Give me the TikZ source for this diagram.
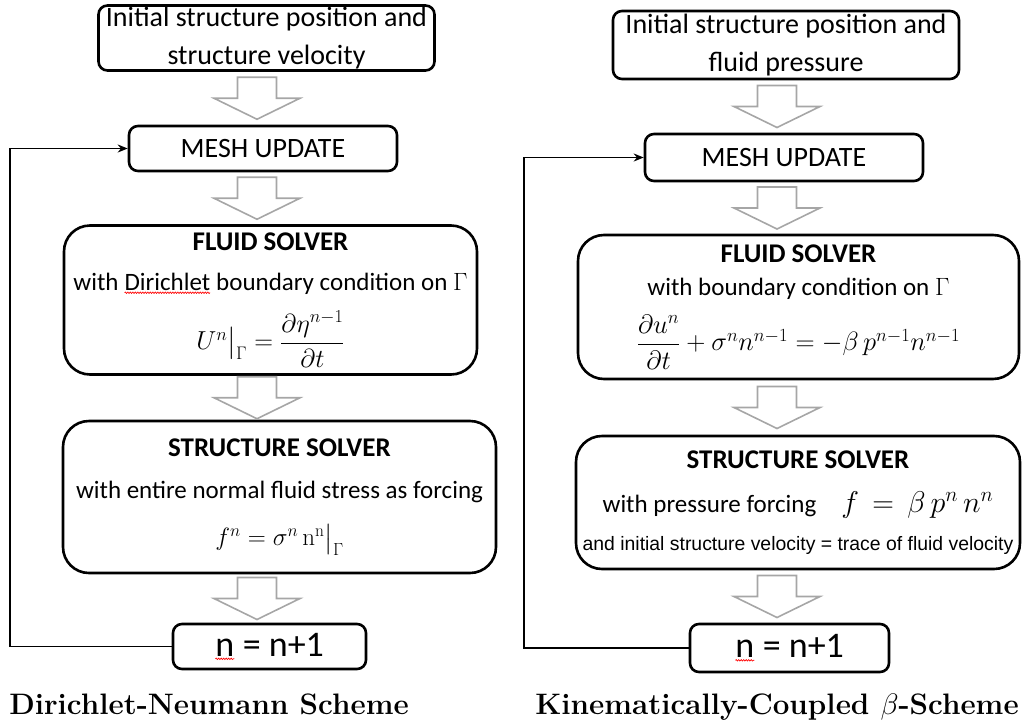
\RequirePackage{fix-cm}
\documentclass[tikz,border=0pt]{standalone}
\usepackage{amsmath, amssymb}
\usepackage{fontspec}
\newfontfamily\calfont{Carlito}
\newfontfamily\arialfont{Liberation Sans}
\usepackage{tikz}
\usetikzlibrary{arrows.meta, positioning, calc, decorations.pathmorphing}

% red spell-check wave under a word
\newcommand\spellwave[1]{\tikz[baseline=(w.base), x=1pt, y=1pt]{%
  \node[inner sep=0pt, outer sep=0pt, minimum width=0pt, minimum height=0pt,
        draw=none, rounded corners=0pt] (w) {#1};
  \draw[red, line width=0.7pt, rounded corners=0pt, decorate,
        decoration={snake, amplitude=0.7pt, segment length=2.5pt}]
    ([yshift=-2.5pt]w.south west) -- ([yshift=-2.5pt]w.south east);}}

% hollow block arrow between two boxes, on a column axis
\newcommand\blockarrow[3]{%
  \draw[hollowarrow] let \p1=(#1.south), \p2=(#2.north), \p3=(#3),
      \n1={(\y1+\y2)/2} in
    (\x3-19.5pt,\n1+21pt) -- (\x3+19.5pt,\n1+21pt) -- (\x3+19.5pt,\n1) -- (\x3+43pt,\n1)
    -- (\x3,\n1-21pt) -- (\x3-43pt,\n1) -- (\x3-19.5pt,\n1) -- cycle;}

\begin{document}
\begin{tikzpicture}[x=1pt, y=-1pt,
    box/.style={draw, rectangle, rounded corners=9pt, line width=2.6pt, align=center, inner sep=0pt},
    solverbox/.style={box, rounded corners=26pt},
    boxtext/.style={font=\calfont\fontsize{28}{38}\selectfont},
    solvertext/.style={font=\calfont\fontsize{25}{30}\selectfont},
    hollowarrow/.style={draw=gray!70, line width=1.6pt, fill=white, line join=miter},
    loopline/.style={line width=1.8pt, -{Stealth[length=10pt, width=8pt]}},
    caption/.style={anchor=base, font=\bfseries\fontsize{29.6}{34}\selectfont}]
    \useasboundingbox (0,0) rectangle (1023,726);

    % Dirichlet-Neumann
    \coordinate (axisL) at (257,0);
    \coordinate (loopL) at (10,0);
    \node[box, boxtext, minimum width=336pt, minimum height=65pt] (initL) at (266.5,38)
        {Initial structure position and\\structure velocity};
    \node[box, boxtext, minimum width=268pt, minimum height=45pt] (meshL) at (263,148.5) {MESH UPDATE};
    \node[solverbox, solvertext, minimum width=413pt, minimum height=149pt] (fluidL) at (270.5,300)
        {{\bfseries\fontsize{27}{30}\selectfont FLUID SOLVER}\\[10pt]
         with \spellwave{Dirichlet} boundary condition on $\Gamma$\\[16pt]
         {\fontsize{26}{30}\selectfont$U^n\big|_{\Gamma}=\dfrac{\partial\eta^{n-1}}{\partial t}$}};
    \node[solverbox, solvertext, minimum width=433pt, minimum height=152pt] (structL) at (279.5,497)
        {{\bfseries\fontsize{27}{30}\selectfont STRUCTURE SOLVER}\\[12pt]
         with entire normal fluid stress as forcing\\[17pt]
         $f^n=\sigma^n\,\mathrm{n}^{\mathrm{n}}\big|_{\Gamma}$};
    \node[box, minimum width=193pt, minimum height=45pt, font=\calfont\fontsize{36}{40}\selectfont] (nL) at (269.5,646.5)
        {\spellwave{n} = n+1};
    \node[caption] (capL) at (209,714) {Dirichlet-Neumann Scheme};

    \blockarrow{initL}{meshL}{axisL}
    \blockarrow{meshL}{fluidL}{axisL}
    \blockarrow{fluidL}{structL}{axisL}
    \blockarrow{structL}{nL}{axisL}
    \draw[loopline] (nL.west) -- (nL.west -| loopL) |- (meshL.west);

    % Kinematically-coupled beta
    \coordinate (axisR) at (777,0);
    \coordinate (loopR) at (524,0);
    \node[box, boxtext, minimum width=346pt, minimum height=68pt] (initR) at (786,45)
        {Initial structure position and\\fluid pressure};
    \node[box, boxtext, minimum width=278pt, minimum height=47pt] (meshR) at (784,157.5) {MESH UPDATE};
    \node[solverbox, solvertext, minimum width=441pt, minimum height=144pt] (fluidR) at (798.5,307)
        {{\bfseries\fontsize{27}{30}\selectfont FLUID SOLVER}\\[3pt]
         with boundary condition on $\Gamma$\\[14pt]
         {\fontsize{26.5}{30}\selectfont$\dfrac{\partial u^n}{\partial t}+\sigma^n n^{n-1}=-\beta\,p^{n-1}n^{n-1}$}};
    \node[solverbox, solvertext, minimum width=444pt, minimum height=133pt] (structR) at (798,502.5)
        {{\bfseries\fontsize{27}{30}\selectfont STRUCTURE SOLVER}\\[14pt]
         with pressure forcing\quad {\fontsize{30}{30}\selectfont$f\,=\,\beta\,p^n\,n^n$}\\[8pt]
         {\arialfont\fontsize{19.4}{22}\selectfont and initial structure velocity = trace of fluid velocity}};
    \node[box, minimum width=199pt, minimum height=48pt, font=\calfont\fontsize{36}{40}\selectfont] (nR) at (789.5,648)
        {\spellwave{n} = n+1};
    \node[caption] (capR) at (777,714) {Kinematically-Coupled $\beta$-Scheme};

    \blockarrow{initR}{meshR}{axisR}
    \blockarrow{meshR}{fluidR}{axisR}
    \blockarrow{fluidR}{structR}{axisR}
    \blockarrow{structR}{nR}{axisR}
    \draw[loopline] (nR.west) -- (nR.west -| loopR) |- (meshR.west);
\end{tikzpicture}
\end{document}
